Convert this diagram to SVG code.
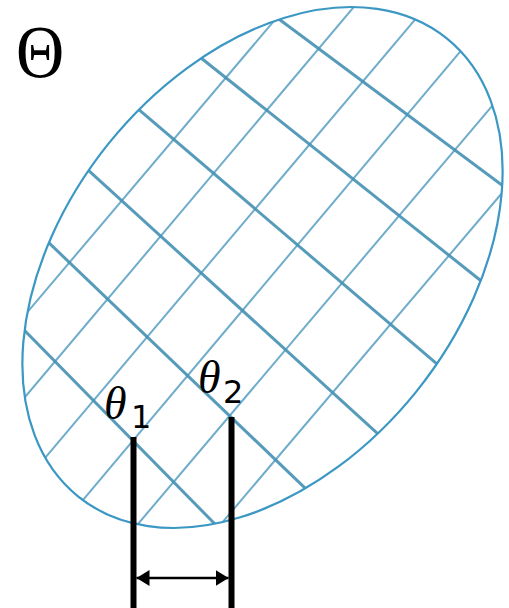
<svg xmlns="http://www.w3.org/2000/svg" width="509" height="608" viewBox="0 0 509 608">
  <style>
    .boundary { fill: none; stroke: #3b97c3; stroke-width: 2.2; }
    .gridA { stroke: #4590b2; stroke-width: 3; stroke-opacity: 0.9; fill: none; }
    .gridB { stroke: #5ea3c4; stroke-width: 2; stroke-opacity: 0.9; fill: none; }
    .bar { stroke: #000; stroke-width: 6; fill: none; }
    .dim { stroke: #000; stroke-width: 2.6; fill: none; }
    .big { font-family: "Liberation Serif", "DejaVu Serif", serif; font-size: 75px; fill: #000; }
    .sym { font-family: "Liberation Serif", "DejaVu Serif", serif; font-style: italic; font-size: 46px; fill: #000; }
    .sub { font-family: "DejaVu Sans", "Liberation Sans", sans-serif; font-size: 32px; fill: #000; }
  </style>
  <defs>
    <clipPath id="ellClip">
      <ellipse cx="0" cy="0" rx="294" ry="197.6" transform="translate(262.5 267.5) rotate(-51.2)"/>
    </clipPath>
    <marker id="arrow" markerUnits="userSpaceOnUse" markerWidth="14" markerHeight="16" refX="13" refY="8" orient="auto-start-reverse">
      <path d="M0,0 L13,8 L0,16 z" fill="#000"/>
    </marker>
  </defs>

  <rect width="509" height="608" fill="#fff"/>

  <g id="parameter-space">
    <g clip-path="url(#ellClip)">
      <line class="gridB" x1="280.8" y1="12.8" x2="17.2" y2="324.2"/>
      <line class="gridB" x1="360.7" y1="-1.2" x2="17.3" y2="406.2"/>
      <line class="gridB" x1="420.7" y1="12.8" x2="37.3" y2="467.2"/>
      <line class="gridB" x1="466.7" y1="43.8" x2="75.3" y2="509.2"/>
      <line class="gridB" x1="499.8" y1="96.8" x2="130.2" y2="533.2"/>
      <line class="gridB" x1="509.8" y1="183.9" x2="219.2" y2="526.1"/>
      <line class="gridA" x1="270.4" y1="12.8" x2="511.6" y2="192.2"/>
      <line class="gridA" x1="191.6" y1="50.5" x2="489.4" y2="287.5"/>
      <line class="gridA" x1="128.9" y1="101.2" x2="445.1" y2="370.8"/>
      <line class="gridA" x1="79.1" y1="161.9" x2="385.9" y2="441.1"/>
      <line class="gridA" x1="38.3" y1="232.7" x2="313.7" y2="496.3"/>
      <line class="gridA" x1="14.6" y1="320.4" x2="221.4" y2="530.6"/>
    </g>
    <ellipse class="boundary" cx="0" cy="0" rx="294" ry="197.6" transform="translate(262.5 267.5) rotate(-51.2)"/>
  </g>

  <g id="label-Theta">
    <text class="big" transform="translate(16 77) scale(0.89 1)" x="0" y="0">Θ</text>
  </g>

  <g id="theta1">
    <text class="sym" x="104" y="419">θ</text>
    <text class="sub" x="131" y="428">1</text>
    <line class="bar" x1="133.5" y1="437" x2="133.5" y2="608"/>
  </g>

  <g id="theta2">
    <text class="sym" x="198" y="393">θ</text>
    <text class="sub" x="223" y="403">2</text>
    <line class="bar" x1="231.5" y1="417" x2="231.5" y2="608"/>
  </g>

  <g id="connectors">
    <line class="dim" x1="136.5" y1="578" x2="228.5" y2="578" marker-start="url(#arrow)" marker-end="url(#arrow)"/>
  </g>
</svg>
